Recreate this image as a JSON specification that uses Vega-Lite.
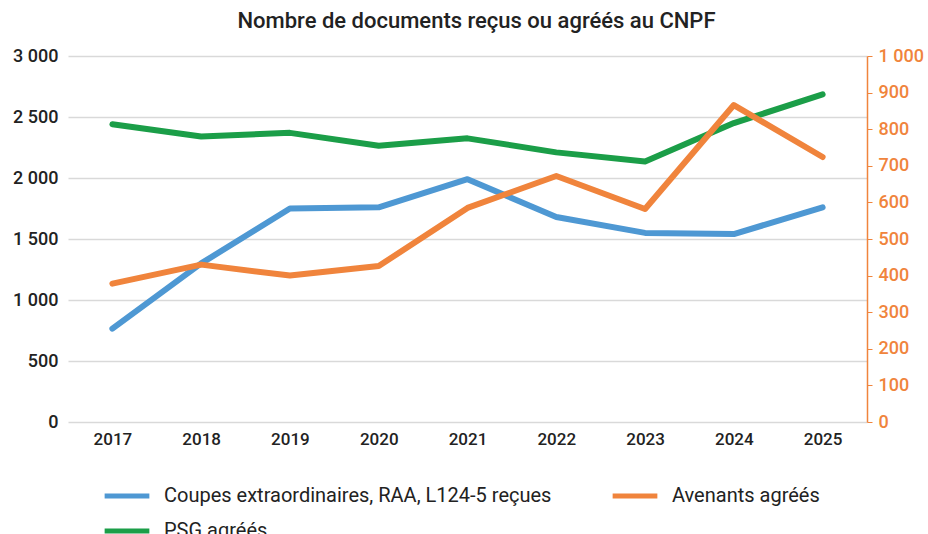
{
  "$schema": "https://vega.github.io/schema/vega-lite/v6.json",
  "width": 799,
  "height": 366,
  "autosize": {"type": "none"},
  "padding": {"left": 68, "top": 56, "right": 61, "bottom": 112},
  "background": "white",
  "title": {
    "text": "Nombre de documents reçus ou agréés au CNPF",
    "font": "Roboto",
    "fontSize": 22,
    "fontWeight": 500,
    "color": "#222222",
    "anchor": "middle",
    "dx": 9,
    "offset": 14
  },
  "config": {
    "view": {"stroke": null},
    "font": "Roboto"
  },
  "data": {
    "values": [
      {"year": "2017", "series": "Coupes extraordinaires, RAA, L124-5 reçues", "value": 765},
      {"year": "2018", "series": "Coupes extraordinaires, RAA, L124-5 reçues", "value": 1300},
      {"year": "2019", "series": "Coupes extraordinaires, RAA, L124-5 reçues", "value": 1750},
      {"year": "2020", "series": "Coupes extraordinaires, RAA, L124-5 reçues", "value": 1760},
      {"year": "2021", "series": "Coupes extraordinaires, RAA, L124-5 reçues", "value": 1990},
      {"year": "2022", "series": "Coupes extraordinaires, RAA, L124-5 reçues", "value": 1680},
      {"year": "2023", "series": "Coupes extraordinaires, RAA, L124-5 reçues", "value": 1550},
      {"year": "2024", "series": "Coupes extraordinaires, RAA, L124-5 reçues", "value": 1540},
      {"year": "2025", "series": "Coupes extraordinaires, RAA, L124-5 reçues", "value": 1760},
      {"year": "2017", "series": "Avenants agréés", "value": 378},
      {"year": "2018", "series": "Avenants agréés", "value": 430},
      {"year": "2019", "series": "Avenants agréés", "value": 400},
      {"year": "2020", "series": "Avenants agréés", "value": 426},
      {"year": "2021", "series": "Avenants agréés", "value": 585},
      {"year": "2022", "series": "Avenants agréés", "value": 672},
      {"year": "2023", "series": "Avenants agréés", "value": 582},
      {"year": "2024", "series": "Avenants agréés", "value": 866},
      {"year": "2025", "series": "Avenants agréés", "value": 724},
      {"year": "2017", "series": "PSG agréés", "value": 2440},
      {"year": "2018", "series": "PSG agréés", "value": 2340},
      {"year": "2019", "series": "PSG agréés", "value": 2370},
      {"year": "2020", "series": "PSG agréés", "value": 2265},
      {"year": "2021", "series": "PSG agréés", "value": 2325},
      {"year": "2022", "series": "PSG agréés", "value": 2210},
      {"year": "2023", "series": "PSG agréés", "value": 2135},
      {"year": "2024", "series": "PSG agréés", "value": 2450},
      {"year": "2025", "series": "PSG agréés", "value": 2685}
    ]
  },
  "encoding": {
    "x": {
      "field": "year",
      "type": "ordinal",
      "scale": {"type": "point", "padding": 0.5},
      "axis": {
        "title": null,
        "labelAngle": 0,
        "domain": false,
        "ticks": false,
        "labelFont": "Roboto",
        "labelFontSize": 17,
        "labelFontWeight": 500,
        "labelColor": "#222222",
        "labelPadding": 9
      }
    },
    "color": {
      "field": "series",
      "type": "nominal",
      "sort": ["Coupes extraordinaires, RAA, L124-5 reçues", "Avenants agréés", "PSG agréés"],
      "scale": {
        "domain": ["Coupes extraordinaires, RAA, L124-5 reçues", "Avenants agréés", "PSG agréés"],
        "range": ["#4E98D3", "#F0843C", "#1B9E48"]
      },
      "legend": {
        "title": null,
        "orient": "none",
        "direction": "horizontal",
        "legendX": 34,
        "legendY": 415,
        "columns": 2,
        "columnPadding": 50,
        "rowPadding": -30,
        "values": ["Coupes extraordinaires, RAA, L124-5 reçues", "Avenants agréés", "PSG agréés"],
        "symbolType": "stroke",
        "symbolSize": 2000,
        "symbolStrokeWidth": 5,
        "labelFont": "Roboto",
        "labelFontSize": 20,
        "labelColor": "#222222",
        "labelLimit": 600,
        "labelOffset": 12
      }
    }
  },
  "layer": [
    {
      "transform": [{"filter": "datum.series !== 'Avenants agréés'"}],
      "mark": {"type": "line", "strokeWidth": 6, "strokeCap": "round", "strokeJoin": "round"},
      "encoding": {
        "y": {
          "field": "value",
          "type": "quantitative",
          "scale": {"domain": [0, 3000]},
          "axis": {
            "title": null,
            "values": [0, 500, 1000, 1500, 2000, 2500, 3000],
            "domain": false,
            "ticks": false,
            "labelExpr": "replace(format(datum.value, ','), ',', ' ')",
            "labelFont": "Roboto",
            "labelFontSize": 18,
            "labelFontWeight": 500,
            "labelColor": "#222222",
            "labelPadding": 10,
            "gridColor": "#D9D9D9",
            "gridWidth": 1.5
          }
        }
      }
    },
    {
      "transform": [{"filter": "datum.series === 'Avenants agréés'"}],
      "mark": {"type": "line", "strokeWidth": 6, "strokeCap": "round", "strokeJoin": "round"},
      "encoding": {
        "y": {
          "field": "value",
          "type": "quantitative",
          "scale": {"domain": [0, 1000]},
          "axis": {
            "title": null,
            "orient": "right",
            "values": [0, 100, 200, 300, 400, 500, 600, 700, 800, 900, 1000],
            "grid": false,
            "domainColor": "#F0843C",
            "domainWidth": 1.5,
            "tickColor": "#F0843C",
            "tickSize": 5,
            "labelExpr": "replace(format(datum.value, ','), ',', ' ')",
            "labelFont": "Roboto",
            "labelFontSize": 18,
            "labelFontWeight": 500,
            "labelColor": "#F0843C",
            "labelPadding": 6
          }
        }
      }
    }
  ],
  "resolve": {"scale": {"y": "independent"}}
}
